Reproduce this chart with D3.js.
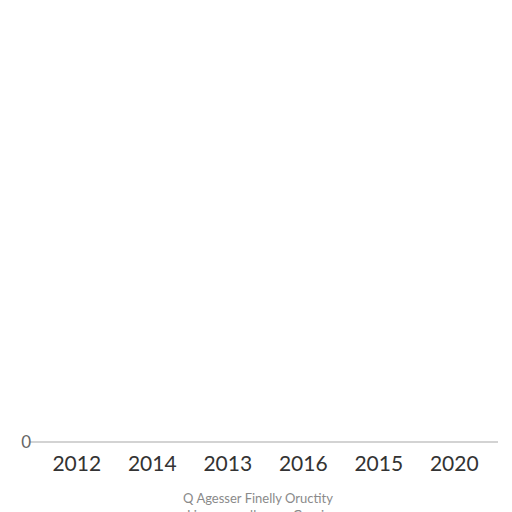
<!DOCTYPE html>
<html>
<head>
<meta charset="utf-8">
<script src="https://cdn.jsdelivr.net/npm/d3@7"></script>
<style>
	body { margin: 0; background: #fff; }
	svg { display: block; }
</style>
</head>
<body>
<svg id="chart"></svg>
<script>
	// Categories along the x axis, in the order they appear
	var years = ['2012', '2014', '2013', '2016', '2015', '2020'];
	// Series values: every bar sits on the zero line
	var values = [0, 0, 0, 0, 0, 0];
	// Y tick labels
	var yTicks = [0];
	// Footer notes
	var notes = ['Q Agesser Finelly Oructity', 'Li wewe w lleeese Grouir'];

	var WIDTH = 512;
	var HEIGHT = 512;
	var MARGIN = { top: 20, right: 20, bottom: 70, left: 39 };

	var svg = d3.select('#chart').attr('width', WIDTH).attr('height', HEIGHT);

	var x = d3.scaleBand()
		.domain(years)
		.range([MARGIN.left, 492])
		.paddingInner(0.3)
		.paddingOuter(0.15);

	var y = d3.scaleLinear()
		.domain([0, 1])
		.range([HEIGHT - MARGIN.bottom, MARGIN.top]);

	// Baseline at zero
	svg.append('line')
		.attr('x1', 30).attr('x2', 498)
		.attr('y1', y(0)).attr('y2', y(0))
		.attr('stroke', '#a8a8a8')
		.attr('stroke-width', 1.2);

	// Zero-height bars
	svg.append('g').selectAll('rect')
		.data(values)
		.join('rect')
		.attr('x', function (d, i) { return x(years[i]); })
		.attr('width', x.bandwidth())
		.attr('y', function (d) { return y(d); })
		.attr('height', function (d) { return y(0) - y(d); })
		.attr('fill', '#4e79a7');

	// Y tick label
	svg.append('g').selectAll('text')
		.data(yTicks)
		.join('text')
		.attr('x', 31)
		.attr('y', function (d) { return y(d); })
		.attr('dy', '0.35em')
		.attr('text-anchor', 'end')
		.attr('font-family', 'Lato, sans-serif')
		.attr('font-size', 17)
		.attr('fill', '#666')
		.text(function (d) { return d; });

	// X axis labels
	var xAxis = svg.append('g')
		.attr('transform', 'translate(0,' + y(0) + ')')
		.call(d3.axisBottom(x).tickSize(0).tickPadding(14));
	xAxis.select('.domain').remove();
	xAxis.selectAll('text')
		.attr('font-family', 'Lato, sans-serif')
		.attr('font-size', 21)
		.attr('fill', '#333');

	// Footer notes
	svg.append('g').selectAll('text')
		.data(notes)
		.join('text')
		.attr('x', 258)
		.attr('y', function (d, i) { return 503 + i * 17; })
		.attr('text-anchor', 'middle')
		.attr('font-family', 'Lato, sans-serif')
		.attr('font-size', 13)
		.attr('fill', '#8a8a8a')
		.text(function (d) { return d; });
</script>
</body>
</html>
